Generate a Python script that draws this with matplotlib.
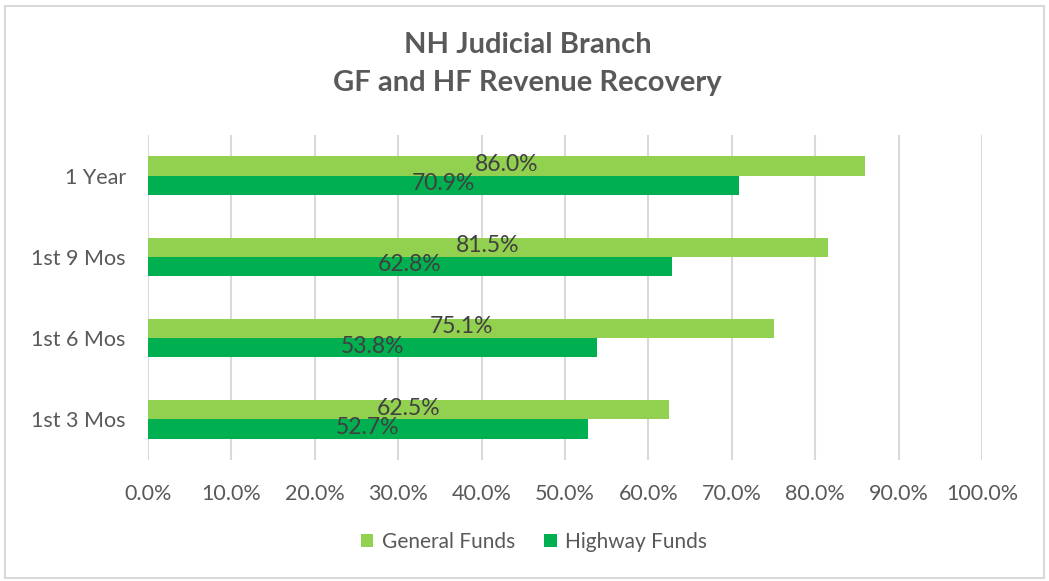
import matplotlib.pyplot as plt
from matplotlib.patches import Rectangle

# data
periods = ["1st 3 Mos", "1st 6 Mos", "1st 9 Mos", "1 Year"]
general_funds = [62.5, 75.1, 81.5, 86.0]
highway_funds = [52.7, 53.8, 62.8, 70.9]
ticks = list(range(0, 101, 10))

plt.rcParams['font.family'] = ['Lato', 'DejaVu Sans']
text_color = '#595959'

fig = plt.figure(figsize=(10.49, 5.81), dpi=100)
ax = fig.add_axes([0.1411, 0.2083, 0.795, 0.5593])

h = 0.236
ypos = list(range(len(periods)))
gf = ax.barh([y + h / 2 for y in ypos], general_funds, height=h, color='#92D050', label='General Funds')
hf = ax.barh([y - h / 2 for y in ypos], highway_funds, height=h, color='#00B050', label='Highway Funds')

# centered value labels
for bars, vals in [(gf, general_funds), (hf, highway_funds)]:
    for b, v in zip(bars, vals):
        ax.text(v / 2, b.get_y() + b.get_height() / 2 + 0.02, f"{v:.1f}%",
                ha='center', va='center', fontsize=16.5, color='#404040')

ax.set_xlim(0, 100)
ax.set_ylim(-0.5, 3.5)
ax.set_yticks(ypos)
ax.set_yticklabels(periods)
ax.set_xticks(ticks)
ax.set_xticklabels([f"{t:.1f}%" for t in ticks])
ax.tick_params(axis='both', length=0, labelsize=15.5, colors=text_color)
ax.tick_params(axis='x', pad=17)
ax.tick_params(axis='y', pad=16)
ax.grid(axis='x', color='#D9D9D9', linewidth=1.5)
ax.set_axisbelow(True)
for s in ax.spines.values():
    s.set_visible(False)

fig.text(0.503, 0.922, "NH Judicial Branch", ha='center', va='center',
         fontsize=21, fontweight='bold', color=text_color)
fig.text(0.503, 0.857, "GF and HF Revenue Recovery", ha='center', va='center',
         fontsize=21, fontweight='bold', color=text_color)

fig.legend(handles=[gf, hf], loc='center', bbox_to_anchor=(0.509, 0.067), ncol=2,
           frameon=False, fontsize=15, labelcolor=text_color,
           handlelength=0.6, handleheight=0.6, columnspacing=1.4, handletextpad=0.4)

fig.patches.append(Rectangle((0.005, 0.005), 0.99, 0.985, transform=fig.transFigure,
                             fill=False, edgecolor='#D9D9D9', linewidth=1.5))

plt.savefig('out.png')
